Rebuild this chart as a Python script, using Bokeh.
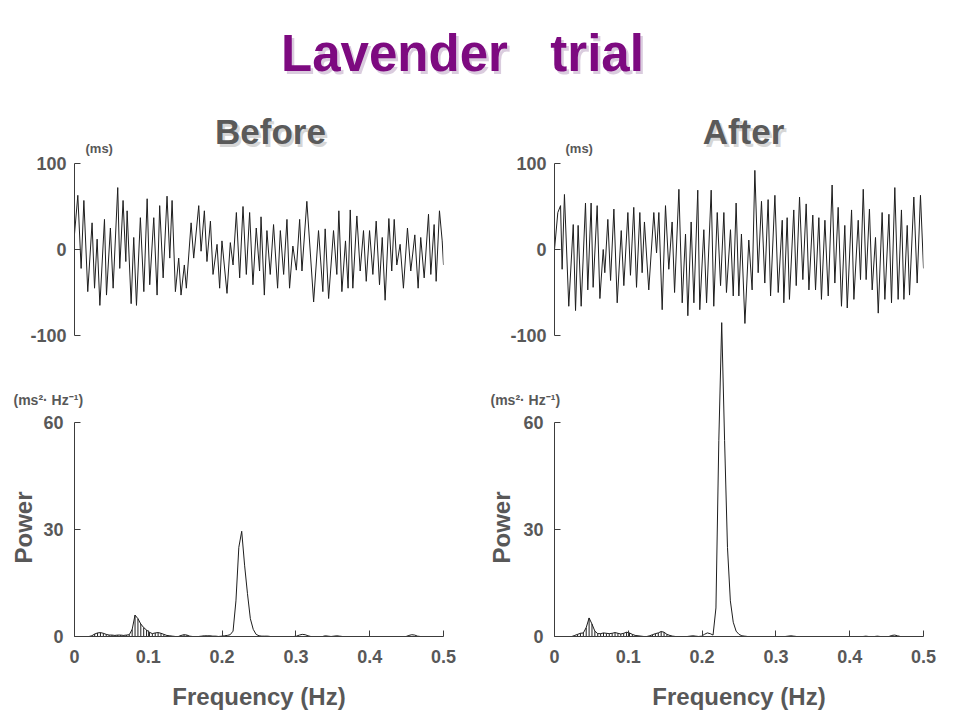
import math
import numpy as np
from bokeh.plotting import figure
from bokeh.models import Range1d, Label, FixedTicker, Spacer
from bokeh.layouts import column, row
from bokeh.embed import file_html
from bokeh.resources import INLINE

# ---------------- data ----------------
MAIN_TITLE = "Lavender\u00a0\u00a0\u00a0trial"
PANEL_TITLES = ["Before", "After"]
TS_UNIT = "(ms)"
PSD_UNIT = "(ms\u00b2\u00b7 Hz\u207b\u00b9)"
TS_TICKS = [-100, 0, 100]
PSD_Y_TICKS = [0, 30, 60]
FREQ_TICKS = [0, 0.1, 0.2, 0.3, 0.4, 0.5]
FREQ_LABEL = "Frequency (Hz)"
POWER_LABEL = "Power"

# RR-interval deviation time series (time in s, value in ms), read at turning points
before_t = [0, 2.3, 4.6, 6.5, 9.2, 12.2, 13.9, 15.7, 17.6, 20.8,
            22.2, 24.9, 26.8, 30.0, 31.4, 33.7, 35.6, 36.5, 39.3, 41.1,
            43.0, 45.7, 48.1, 50.4, 52.2, 55.0, 57.3, 59.1, 61.5, 64.2,
            66.1, 67.7, 70.0, 72.3, 73.9, 76.2, 77.6, 80.9, 82.7, 86.2,
            87.8, 90.1, 91.9, 94.3, 96.1, 98.9, 100.7, 102.3, 105.8, 108.1,
            110.0, 112.3, 114.6, 116.9, 119.2, 121.5, 123.8, 126.1, 128.4, 129.4,
            131.7, 133.5, 135.8, 138.1, 140.9, 142.8, 145.1, 147.4, 149.2, 151.5,
            153.9, 156.2, 157.8, 161.2, 165.9, 169.3, 172.3, 173.9, 176.3, 179.7,
            182.0, 183.4, 185.5, 188.0, 189.8, 191.3, 193.1, 195.9, 198.2, 200.5,
            202.4, 204.7, 207.0, 209.3, 211.6, 213.5, 215.5, 218.1, 220.1, 221.8,
            223.6, 225.9, 228.2, 231.0, 233.3, 236.1, 238.4, 240.2, 242.6, 245.6,
            247.2, 249.5, 250.9, 253.2, 255.1, 256.0]
before_v = [18, 63, -22, 57, -49, 31, -45, 12, -65, 35,
            -53, 25, -45, 72, -22, 57, -14, 45, -63, 14,
            -65, 37, -49, 59, -41, 37, -53, 51, -33, 62,
            -10, 57, -49, -10, -53, -18, -45, 31, -10, 51,
            -2, 45, -14, 33, -29, 6, -45, 10, -51, 8,
            -18, 43, -33, 50, -29, 43, -41, 25, -25, 38,
            -53, 22, -29, 29, -45, 22, -29, 35, -45, 4,
            -24, 35, -25, 56, -61, 22, -49, 24, -57, 22,
            -29, 45, -49, 10, -45, 46, -45, 39, -25, 22,
            -37, 22, -29, 33, -41, 14, -59, 36, -25, 35,
            -18, 6, -45, 25, -25, 17, -45, 14, -33, 41,
            -29, 29, -37, 45, 10, -18]

after_t = [0, 2.3, 4.2, 5.3, 6.9, 9.9, 13.0, 14.6, 16.4, 18.5,
           21.5, 23.1, 25.4, 26.8, 29.6, 31.5, 33.8, 34.9, 37.0, 38.9,
           41.2, 43.5, 46.3, 48.1, 50.9, 52.7, 55.0, 56.9, 59.2, 60.8,
           62.4, 65.4, 68.9, 70.8, 72.4, 74.7, 77.0, 79.3, 81.6, 83.3,
           86.3, 88.6, 90.9, 92.5, 94.8, 96.7, 99.4, 100.8, 103.6, 105.5,
           108.7, 110.5, 112.9, 115.2, 117.5, 119.3, 122.1, 124.0, 126.0, 127.9,
           129.7, 132.1, 134.8, 137.1, 139.0, 141.3, 143.6, 145.9, 148.2, 149.9,
           152.9, 155.2, 158.0, 159.1, 161.4, 163.0, 166.0, 167.7, 170.0, 172.3,
           174.6, 176.5, 179.2, 181.1, 183.4, 185.2, 187.6, 189.9, 192.6, 194.5,
           196.8, 199.1, 201.4, 203.1, 206.1, 207.7, 210.7, 212.3, 214.2, 216.2,
           218.5, 220.4, 222.7, 224.6, 227.3, 229.2, 232.0, 233.8, 236.1, 238.4,
           240.7, 242.4, 244.7, 246.3, 249.3, 251.6, 253.9, 256.0]
after_v = [0, 43, 51, -23, 64, -66, 29, -71, 28, -66,
           54, -47, 54, -44, 51, -57, 0, -27, 35, -36,
           47, -62, 22, -42, 43, -30, 49, -44, 43, -27,
           32, -47, 43, -4, 43, -70, 51, -23, 32, -50,
           70, -62, 18, -77, 32, -62, 69, -70, 23, -62,
           69, -66, 43, -42, 43, -50, 23, -54, 54, -54,
           18, -86, 11, -47, 92, -27, 56, -39, 58, -54,
           63, -50, 34, -62, 37, -58, 46, -42, 61, -35,
           53, -47, 40, -47, 37, -58, 34, -54, 75, -39,
           49, -66, 28, -68, 46, -58, 34, -35, 70, -35,
           47, -47, 14, -74, 43, -58, 41, -62, 72, -58,
           46, -58, 28, -53, 61, -39, 63, -22]

# power spectra on the 1/256 Hz frequency bins (0 ... 0.5 Hz, 129 bins)
FREQ_BIN = 1.0 / 256
before_power = [0, 0, 0, 0, 0, 0, 0.2, 0.7, 1.0, 1.1,
                0.9, 0.6, 0.4, 0.4, 0.3, 0.4, 0.4, 0.3, 0.4, 0.5,
                2.0, 6.0, 5.0, 3.5, 2.5, 1.8, 1.2, 0.8, 1.0, 1.1,
                0.9, 0.6, 0.3, 0.2, 0.1, 0, 0, 0.3, 0.5, 0.4,
                0.1, 0, 0, 0, 0.1, 0.2, 0.2, 0.2, 0.1, 0.1,
                0, 0.1, 0.2, 0.3, 0.5, 1.5, 10.0, 25.0, 29.5, 20.0,
                12.0, 5.0, 2.0, 0.6, 0.2, 0.1, 0.1, 0.1, 0, 0,
                0, 0, 0, 0, 0, 0, 0, 0.1, 0.4, 0.6,
                0.5, 0.2, 0, 0, 0, 0, 0, 0.2, 0.1, 0,
                0.1, 0.2, 0.1, 0, 0, 0, 0, 0, 0, 0,
                0, 0, 0, 0, 0, 0, 0, 0, 0, 0,
                0, 0, 0, 0, 0, 0, 0.3, 0.5, 0.4, 0.1,
                0, 0, 0, 0, 0, 0, 0, 0, 0]
after_power = [0, 0, 0, 0, 0, 0, 0, 0.3, 0.6, 0.9,
               1.0, 2.5, 5.2, 3.5, 1.5, 0.8, 0.8, 1.0, 0.9, 0.8,
               0.9, 1.1, 0.9, 0.7, 0.9, 1.2, 1.0, 0.6, 0.3, 0.2,
               0.1, 0, 0, 0.2, 0.5, 0.8, 1.0, 1.4, 1.2, 0.6,
               0.3, 0.1, 0, 0, 0, 0, 0, 0.1, 0.2, 0.1,
               0, 0.1, 0.6, 1.0, 0.8, 0.4, 8.0, 55.0, 88.0, 55.0,
               25.0, 10.0, 4.0, 1.5, 0.6, 0.2, 0.1, 0, 0, 0,
               0, 0, 0, 0, 0, 0, 0, 0, 0, 0,
               0, 0.1, 0.2, 0.1, 0, 0, 0, 0, 0, 0,
               0, 0, 0, 0, 0, 0, 0, 0, 0, 0,
               0, 0, 0, 0, 0, 0, 0, 0, 0.1, 0,
               0, 0, 0.1, 0, 0, 0, 0, 0.3, 0.4, 0.2,
               0, 0, 0, 0, 0, 0, 0, 0, 0]
STRIPE_BELOW_HZ = 0.17

# ---------------- style / layout ----------------
FONT = "Liberation Sans"
GRAY = "#585858"
AXIS = "#3c3c3c"
LINE = "#1e1e1e"
PURPLE = "#7d0a80"

PAGE_W = 960
COL_W = 480
HEAD_H = 100
TS_H = 245
TS_TOP = 63
TS_BOTTOM = 10
PSD_H = 396
PSD_BOTTOM = 76
PSD_OVERLAP = 29
PSD_FRAME_H = PSD_H - PSD_BOTTOM
PSD_60_PX = 214
PSD_YTOP = 60.0 * PSD_FRAME_H / PSD_60_PX
BORDER_L = 74
BORDER_R = 37
TOTAL_H = HEAD_H + TS_H + PSD_H - PSD_OVERLAP


def style_axis(ax, standoff=10):
    ax.axis_line_color = AXIS
    ax.major_tick_line_color = AXIS
    ax.major_tick_in = 6
    ax.major_tick_out = 0
    ax.minor_tick_line_color = None
    ax.major_label_text_font = FONT
    ax.major_label_text_font_size = "18px"
    ax.major_label_text_font_style = "bold"
    ax.major_label_text_color = GRAY
    ax.major_label_standoff = standoff


def clear(p):
    p.outline_line_color = None
    p.grid.visible = False
    p.background_fill_color = None
    p.border_fill_color = None


def ts_figure(t, v):
    p = figure(width=COL_W, height=TS_H, x_range=Range1d(0, 256), y_range=Range1d(-100, 100),
               x_axis_type=None, output_backend="svg", toolbar_location=None,
               min_border_left=BORDER_L, min_border_right=BORDER_R,
               min_border_top=TS_TOP, min_border_bottom=TS_BOTTOM)
    clear(p)
    ax = p.yaxis[0]
    style_axis(ax, 8)
    ax.ticker = FixedTicker(ticks=TS_TICKS)
    ax.major_label_overrides = {-100: "-100"}
    p.line(t, v, line_color=LINE, line_width=1)
    return p


def psd_figure(power):
    p = figure(width=COL_W, height=PSD_H, x_range=Range1d(0, 0.5), y_range=Range1d(0, PSD_YTOP),
               output_backend="svg", toolbar_location=None,
               min_border_left=BORDER_L, min_border_right=BORDER_R,
               min_border_top=0, min_border_bottom=PSD_BOTTOM)
    clear(p)
    p.margin = (-PSD_OVERLAP, 0, 0, 0)

    ya = p.yaxis[0]
    style_axis(ya, 11)
    ya.ticker = FixedTicker(ticks=PSD_Y_TICKS)
    ya.bounds = (0, 60)

    xa = p.xaxis[0]
    style_axis(xa, 13)
    xa.ticker = FixedTicker(ticks=FREQ_TICKS)
    xa.major_label_overrides = {0: "0"}
    xa.axis_label = FREQ_LABEL
    xa.axis_label_text_font = FONT
    xa.axis_label_text_font_size = "24px"
    xa.axis_label_text_font_style = "bold"
    xa.axis_label_text_color = GRAY
    xa.axis_label_standoff = 17

    f = np.arange(len(power)) * FREQ_BIN
    pw = np.asarray(power, dtype=float)
    m = (f < STRIPE_BELOW_HZ) & (pw > 0)
    p.segment(x0=f[m], y0=0, x1=f[m], y1=pw[m], line_color=LINE, line_width=1)
    p.line(f, pw, line_color=LINE, line_width=1)
    return p


# transparent overlay holding the free-standing texts (page-pixel coordinates)
overlay = figure(width=PAGE_W, height=TOTAL_H, x_range=Range1d(0, PAGE_W),
                 y_range=Range1d(TOTAL_H, 0), x_axis_type=None, y_axis_type=None,
                 output_backend="svg", toolbar_location=None, min_border=0)
clear(overlay)
overlay.margin = (-TOTAL_H, 0, 0, 0)


def text(x, y, s, size, color, align="left", shadow=None, angle=0.0):
    common = dict(y=y, text=s, text_font=FONT, text_font_size=size, text_font_style="bold",
                  text_align=align, text_baseline="middle", angle=angle)
    if shadow:
        overlay.add_layout(Label(x=x + 2.5, y_offset=-2.5, text_color=shadow, text_alpha=0.85, **common))
    overlay.add_layout(Label(x=x, text_color=color, **common))


text(462, 53, MAIN_TITLE, "51px", PURPLE, "center", "#d3c3d8")
text(270, 131, PANEL_TITLES[0], "35px", "#5a5a5a", "center", "#cfcfcf")
text(743, 131, PANEL_TITLES[1], "35px", "#5a5a5a", "center", "#cfcfcf")
text(85, 148, TS_UNIT, "13px", GRAY)
text(565, 148, TS_UNIT, "13px", GRAY)
text(13, 399, PSD_UNIT, "14px", GRAY)
text(490, 399, PSD_UNIT, "14px", GRAY)
text(23, 527, POWER_LABEL, "24px", GRAY, "center", angle=math.pi / 2)
text(501, 527, POWER_LABEL, "24px", GRAY, "center", angle=math.pi / 2)

ts_b = ts_figure(before_t, before_v)
ts_a = ts_figure(after_t, after_v)
psd_b = psd_figure(before_power)
psd_a = psd_figure(after_power)

layout = column(Spacer(width=PAGE_W, height=HEAD_H),
                row(column(ts_b, psd_b), column(ts_a, psd_a)),
                overlay)

open("out.html", "w").write(file_html(layout, INLINE))
